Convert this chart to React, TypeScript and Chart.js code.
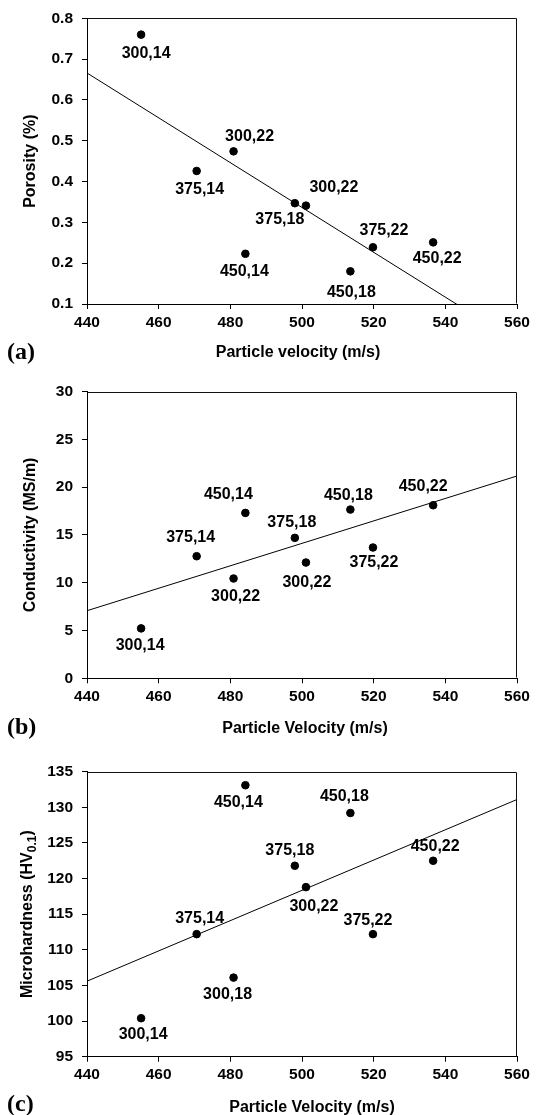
import React, { useEffect, useRef } from 'react';
import { Chart, registerables } from 'chart.js';

Chart.register(...registerables);

// ---------------- data ----------------
const velocity = [455.1, 470.6, 480.9, 484.2, 498.0, 501.1, 513.5, 519.8, 536.6];

const porosity = [0.76, 0.426, 0.474, 0.223, 0.347, 0.341, 0.18, 0.239, 0.251];
const conductivity = [5.22, 12.77, 10.44, 17.3, 14.69, 12.11, 17.65, 13.68, 18.1];
const microhardness = [100.4, 112.2, 106.1, 133.1, 121.8, 118.8, 129.2, 112.2, 122.5];

const pointLabelsA = ['300,14', '375,14', '300,22', '450,14', '375,18', '300,22', '450,18', '375,22', '450,22'];
const pointLabelsB = ['300,14', '375,14', '300,22', '450,14', '375,18', '300,22', '450,18', '375,22', '450,22'];
const pointLabelsC = ['300,14', '375,14', '300,18', '450,14', '375,18', '300,22', '450,18', '375,22', '450,22'];

const trendX = [440, 560];
const trendA = [0.666, 0.007];
const trendB = [7.07, 21.16];
const trendC = [105.6, 131.1];

const xTicks = [440, 460, 480, 500, 520, 540, 560];
const xTickLabels = ['440', '460', '480', '500', '520', '540', '560'];
const yTicksA = [0.1, 0.2, 0.3, 0.4, 0.5, 0.6, 0.7, 0.8];
const yTickLabelsA = ['0.1', '0.2', '0.3', '0.4', '0.5', '0.6', '0.7', '0.8'];
const yTicksB = [0, 5, 10, 15, 20, 25, 30];
const yTickLabelsB = ['0', '5', '10', '15', '20', '25', '30'];
const yTicksC = [95, 100, 105, 110, 115, 120, 125, 130, 135];
const yTickLabelsC = ['95', '100', '105', '110', '115', '120', '125', '130', '135'];

// label placement (pixel offsets from the point, layout only)
const labelOffsetA = [[5, 19], [3, 19], [16, -15], [-1, 18], [-15, 16], [28, -18], [1, 21], [11, -17], [4, 16]];
const labelOffsetB = [[-1, 17], [-6, -19], [2, 18], [-17, -18], [-3, -15], [1, 20], [-2, -14], [1, 15], [-10, -19]];
const labelOffsetC = [[2, 16], [3, -16], [-6, 17], [-7, 17], [-5, -15], [8, 19], [-6, -16], [-5, -14], [2, -14]];

// ---------------- layout ----------------
const SANS = "'Liberation Sans', Arial, Helvetica, sans-serif";
const SERIF = "'Liberation Serif', 'Times New Roman', serif";
const PLOT_LEFT = 87;
const PLOT_RIGHT = 517;
const W = 540;

type PanelCfg = {
  top: number;
  height: number;
  plotTop: number;
  plotBottom: number;
  yValues: number[];
  yMin: number;
  yMax: number;
  yTicks: number[];
  yTickLabels: string[];
  trend: number[];
  pointLabels: string[];
  labelOffset: number[][];
  yTitle: string;
  ySub?: string;
  yTitleX: number;
  xTitle: string;
  xTitleX: number;
  xTitleY: number;
  letter: string;
  letterY: number;
};

const panels: PanelCfg[] = [
  {
    top: 0, height: 372, plotTop: 17, plotBottom: 304,
    yValues: porosity, yMin: 0.1, yMax: 0.8, yTicks: yTicksA, yTickLabels: yTickLabelsA,
    trend: trendA, pointLabels: pointLabelsA, labelOffset: labelOffsetA,
    yTitle: 'Porosity (%)', yTitleX: 31,
    xTitle: 'Particle velocity (m/s)', xTitleX: 298, xTitleY: 353,
    letter: '(a)', letterY: 353,
  },
  {
    top: 372, height: 372, plotTop: 19.5, plotBottom: 306.3,
    yValues: conductivity, yMin: 0, yMax: 30, yTicks: yTicksB, yTickLabels: yTickLabelsB,
    trend: trendB, pointLabels: pointLabelsB, labelOffset: labelOffsetB,
    yTitle: 'Conductivity (MS/m)', yTitleX: 31,
    xTitle: 'Particle Velocity (m/s)', xTitleX: 305, xTitleY: 357,
    letter: '(b)', letterY: 356,
  },
  {
    top: 744, height: 371, plotTop: 27.7, plotBottom: 312.7,
    yValues: microhardness, yMin: 95, yMax: 135, yTicks: yTicksC, yTickLabels: yTickLabelsC,
    trend: trendC, pointLabels: pointLabelsC, labelOffset: labelOffsetC,
    yTitle: 'Microhardness (HV', ySub: '0.1', yTitleX: 28,
    xTitle: 'Particle Velocity (m/s)', xTitleX: 312, xTitleY: 364,
    letter: '(c)', letterY: 361,
  },
];

function makeOverlay(cfg: PanelCfg) {
  return {
    id: 'overlay' + cfg.letter,
    afterDraw(chart: any) {
      const { ctx, chartArea } = chart;
      ctx.save();
      // top and right frame
      ctx.strokeStyle = '#111';
      ctx.lineWidth = 1;
      const l = Math.round(chartArea.left) + 0.5;
      const r = Math.round(chartArea.right) - 0.5;
      const t = Math.round(chartArea.top) + 0.5;
      const b = Math.round(chartArea.bottom) - 0.5;
      ctx.beginPath();
      ctx.moveTo(l, t);
      ctx.lineTo(r, t);
      ctx.lineTo(r, b);
      ctx.stroke();

      // point labels
      const meta = chart.getDatasetMeta(1);
      ctx.fillStyle = '#000';
      ctx.font = `bold 16px ${SANS}`;
      ctx.textAlign = 'center';
      ctx.textBaseline = 'middle';
      meta.data.forEach((el: any, i: number) => {
        const off = cfg.labelOffset[i];
        ctx.fillText(cfg.pointLabels[i], el.x + off[0], el.y + off[1]);
      });

      // x title
      ctx.font = `bold 16px ${SANS}`;
      ctx.fillText(cfg.xTitle, cfg.xTitleX, cfg.xTitleY);

      // y title (rotated)
      const cy = (chartArea.top + chartArea.bottom) / 2;
      ctx.save();
      ctx.translate(cfg.yTitleX, cy);
      ctx.rotate(-Math.PI / 2);
      ctx.font = `bold 16px ${SANS}`;
      if (cfg.ySub) {
        const mainW = ctx.measureText(cfg.yTitle).width;
        ctx.font = `bold 12px ${SANS}`;
        const subW = ctx.measureText(cfg.ySub).width;
        ctx.font = `bold 16px ${SANS}`;
        const closeW = ctx.measureText(')').width;
        const total = mainW + subW + closeW;
        let x = -total / 2;
        ctx.textAlign = 'left';
        ctx.fillText(cfg.yTitle, x, 0);
        x += mainW;
        ctx.font = `bold 12px ${SANS}`;
        ctx.fillText(cfg.ySub, x, 5);
        x += subW;
        ctx.font = `bold 16px ${SANS}`;
        ctx.fillText(')', x, 0);
      } else {
        ctx.textAlign = 'center';
        ctx.fillText(cfg.yTitle, 0, 0);
      }
      ctx.restore();

      // panel letter
      ctx.font = `bold 24px ${SERIF}`;
      ctx.textAlign = 'left';
      ctx.textBaseline = 'middle';
      ctx.fillText(cfg.letter, 7, cfg.letterY);
      ctx.restore();
    },
  };
}

function Panel({ cfg }: { cfg: PanelCfg }) {
  const ref = useRef<HTMLCanvasElement>(null);
  useEffect(() => {
    const canvas = ref.current!;
    const points = velocity.map((v, i) => ({ x: v, y: cfg.yValues[i] }));
    const line = trendX.map((v, i) => ({ x: v, y: cfg.trend[i] }));
    const tickFont = { family: SANS, size: 15.5, weight: 'bold' as const };
    const chart = new Chart(canvas, {
      type: 'scatter',
      data: {
        datasets: [
          {
            type: 'line',
            data: line,
            borderColor: '#000',
            borderWidth: 1,
            pointRadius: 0,
            fill: false,
          } as any,
          {
            type: 'scatter',
            data: points,
            backgroundColor: '#000',
            borderColor: '#000',
            pointRadius: 3.8,
            pointHoverRadius: 3.8,
          },
        ],
      },
      options: {
        animation: false,
        responsive: false,
        events: [],
        layout: { padding: { left: 0, right: W - PLOT_RIGHT, top: cfg.plotTop, bottom: 0 } },
        plugins: { legend: { display: false }, tooltip: { enabled: false } },
        scales: {
          x: {
            type: 'linear',
            min: 440,
            max: 560,
            afterBuildTicks: (s: any) => { s.ticks = xTicks.map((v) => ({ value: v })); },
            afterFit: (s: any) => { s.height = cfg.height - cfg.plotBottom; },
            ticks: {
              font: tickFont,
              color: '#000',
              padding: 4,
              maxRotation: 0,
              callback: (_v: any, i: number) => xTickLabels[i],
            },
            grid: { drawOnChartArea: false, drawTicks: true, tickLength: 5, color: '#000' },
            border: { display: true, color: '#000', width: 1 },
          },
          y: {
            type: 'linear',
            min: cfg.yMin,
            max: cfg.yMax,
            afterBuildTicks: (s: any) => { s.ticks = cfg.yTicks.map((v) => ({ value: v })); },
            afterFit: (s: any) => { s.width = PLOT_LEFT; },
            ticks: {
              font: tickFont,
              color: '#000',
              padding: 9,
              callback: (_v: any, i: number) => cfg.yTickLabels[i],
            },
            grid: { drawOnChartArea: false, drawTicks: true, tickLength: 5, color: '#000' },
            border: { display: true, color: '#000', width: 1 },
          },
        },
      },
      plugins: [makeOverlay(cfg)],
    });
    return () => chart.destroy();
  }, [cfg]);
  return (
    <canvas
      ref={ref}
      width={W}
      height={cfg.height}
      style={{ position: 'absolute', left: 0, top: cfg.top, width: W, height: cfg.height, display: 'block' }}
    />
  );
}

export default function App() {
  return (
    <div style={{ position: 'absolute', left: 0, top: 0, width: W, height: 1115, background: '#fff' }}>
      {panels.map((p) => (
        <Panel key={p.letter} cfg={p} />
      ))}
    </div>
  );
}
